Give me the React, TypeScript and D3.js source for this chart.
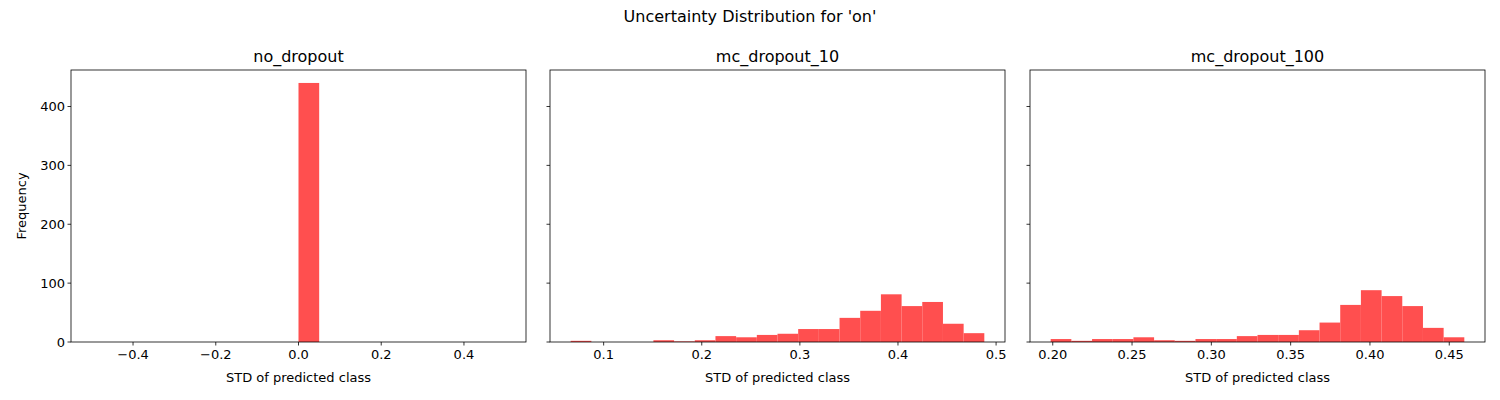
import * as d3 from "d3";

const panelTitles = ["no_dropout", "mc_dropout_10", "mc_dropout_100"];
// bin ranges [start, end] for each histogram (20 bins each)
const binRanges: [number, number][] = [
  [-0.5, 0.5],
  [0.0664, 0.488],
  [0.1987, 0.4595],
];
const counts0 = [0, 0, 0, 0, 0, 0, 0, 0, 0, 0, 440, 0, 0, 0, 0, 0, 0, 0, 0, 0];
const counts1 = [2, 0, 0, 0, 3, 1, 3, 10, 8, 12, 14, 22, 22, 41, 53, 81, 61, 68, 31, 15];
const counts2 = [5, 2, 5, 5, 8, 3, 2, 5, 5, 10, 12, 12, 20, 33, 63, 88, 78, 61, 24, 8];
const allCounts = [counts0, counts1, counts2];
const xTicks = [
  [-0.4, -0.2, 0, 0.2, 0.4],
  [0.1, 0.2, 0.3, 0.4, 0.5],
  [0.2, 0.25, 0.3, 0.35, 0.4, 0.45],
];
const xFormats = [".1f", ".1f", ".2f"];
const yTicks = [0, 100, 200, 300, 400];

const panelsX = [71, 550, 1030];
const panelW = 455;
const top = 70;
const bottom = 342;
const font = "DejaVu Sans, sans-serif";

export default function App() {
  const y = d3.scaleLinear().domain([0, 462]).range([bottom, top]);
  return (
    <svg width={1500} height={400} style={{ position: "absolute", left: 0, top: 0 }} fontFamily={font}>
      <rect width={1500} height={400} fill="white" />
      <text x={750} y={22} textAnchor="middle" fontSize={16}>
        Uncertainty Distribution for 'on'
      </text>
      {panelTitles.map((title, p) => {
        const [a, b] = binRanges[p];
        const pad = (b - a) * 0.05;
        const x = d3.scaleLinear().domain([a - pad, b + pad]).range([panelsX[p], panelsX[p] + panelW]);
        const bw = (b - a) / allCounts[p].length;
        const fmt = d3.format(xFormats[p]);
        return (
          <g key={title}>
            <text x={panelsX[p] + panelW / 2} y={62} textAnchor="middle" fontSize={16}>
              {title}
            </text>
            {allCounts[p].map((c, i) =>
              c > 0 ? (
                <rect
                  key={i}
                  x={x(a + i * bw)}
                  width={x(a + (i + 1) * bw) - x(a + i * bw)}
                  y={y(c)}
                  height={y(0) - y(c)}
                  fill="#ff4f4f"
                />
              ) : null
            )}
            <rect x={panelsX[p]} y={top} width={panelW} height={bottom - top} fill="none" stroke="black" strokeWidth={0.8} />
            {xTicks[p].map((t) => (
              <g key={t} transform={`translate(${x(t)},${bottom})`}>
                <line y2={3.5} stroke="black" strokeWidth={0.8} />
                <text y={17} textAnchor="middle" fontSize={13}>
                  {fmt(t).replace("-", "\u2212")}
                </text>
              </g>
            ))}
            {yTicks.map((t) => (
              <g key={t} transform={`translate(${panelsX[p]},${y(t)})`}>
                <line x2={-3.5} stroke="black" strokeWidth={0.8} />
                {p === 0 && (
                  <text x={-6} dy="0.35em" textAnchor="end" fontSize={13}>
                    {t}
                  </text>
                )}
              </g>
            ))}
            <text x={panelsX[p] + panelW / 2} y={382} textAnchor="middle" fontSize={13}>
              STD of predicted class
            </text>
          </g>
        );
      })}
      <text transform={`translate(26,${(top + bottom) / 2}) rotate(-90)`} textAnchor="middle" fontSize={13}>
        Frequency
      </text>
    </svg>
  );
}
